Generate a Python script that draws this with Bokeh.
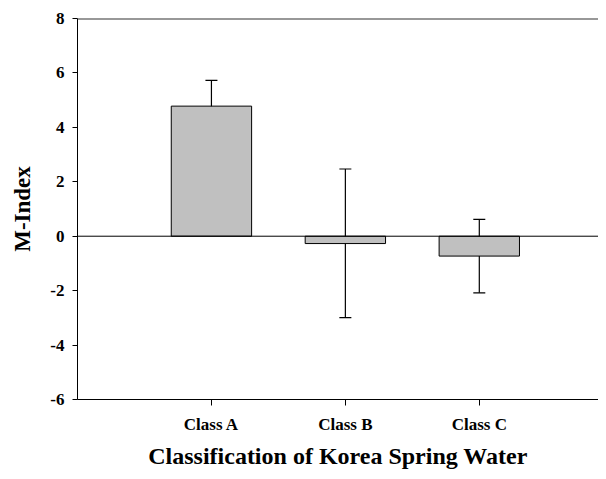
from bokeh.plotting import figure
from bokeh.models import (ColumnDataSource, Whisker, TeeHead, Span, FixedTicker,
                          Range1d)
from bokeh.embed import file_html
from bokeh.resources import INLINE

categories = ["Class A", "Class B", "Class C"]
m_index = [4.78, -0.27, -0.73]
err_upper = [5.73, 2.47, 0.62]
err_lower = [3.85, -2.99, -2.08]
y_ticks = [-6, -4, -2, 0, 2, 4, 6, 8]

xpos = [i + 1 for i in range(len(categories))]
src = ColumnDataSource(dict(x=xpos, top=m_index, upper=err_upper, lower=err_lower))

FONT = "Liberation Serif"

p = figure(width=598, height=471, output_backend="svg", toolbar_location=None,
           x_range=Range1d(0, 3.89), y_range=Range1d(y_ticks[0], y_ticks[-1]),
           min_border_left=77, min_border_right=0, min_border_top=18, min_border_bottom=66)
p.outline_line_color = None
p.grid.visible = False
p.background_fill_color = "white"

p.vbar(x="x", top="top", bottom=0, width=0.6, source=src,
       fill_color="#c0c0c0", line_color="black", line_width=1)

p.add_layout(Span(location=0, dimension="width", line_color="black", line_width=1))
# top frame line at the upper end of the value axis
p.add_layout(Span(location=y_ticks[-1], dimension="width", line_color="#333333", line_width=2))

w = Whisker(base="x", upper="upper", lower="lower", source=src,
            line_color="black", line_width=1.2,
            upper_head=TeeHead(size=12, line_color="black", line_width=1.2),
            lower_head=TeeHead(size=12, line_color="black", line_width=1.2))
p.add_layout(w)

# y axis
ya = p.yaxis[0]
ya.ticker = FixedTicker(ticks=y_ticks)
ya.major_label_overrides = {t: str(t) for t in y_ticks}
ya.minor_tick_line_color = None
ya.major_tick_out = 5
ya.major_tick_in = 0
ya.axis_line_color = "black"
ya.major_tick_line_color = "black"
ya.major_label_text_color = "black"
ya.major_label_text_font = FONT
ya.major_label_text_font_style = "bold"
ya.major_label_text_font_size = "17px"
ya.major_label_standoff = 8
ya.axis_label = "M-Index"
ya.axis_label_text_color = "black"
ya.axis_label_text_font = FONT
ya.axis_label_text_font_style = "bold"
ya.axis_label_text_font_size = "23px"
ya.axis_label_standoff = 12

# x axis
xa = p.xaxis[0]
xa.ticker = FixedTicker(ticks=xpos)
xa.major_label_overrides = {x: c for x, c in zip(xpos, categories)}
xa.minor_tick_line_color = None
xa.major_tick_out = 6
xa.major_tick_in = 0
xa.axis_line_color = "black"
xa.major_tick_line_color = "black"
xa.major_label_text_color = "black"
xa.major_label_text_font = FONT
xa.major_label_text_font_style = "bold"
xa.major_label_text_font_size = "17px"
xa.major_label_standoff = 9
xa.axis_label = "Classification of Korea Spring Water"
xa.axis_label_text_color = "black"
xa.axis_label_text_font = FONT
xa.axis_label_text_font_style = "bold"
xa.axis_label_text_font_size = "24px"
xa.axis_label_standoff = 6

open("out.html", "w").write(file_html(p, INLINE))
